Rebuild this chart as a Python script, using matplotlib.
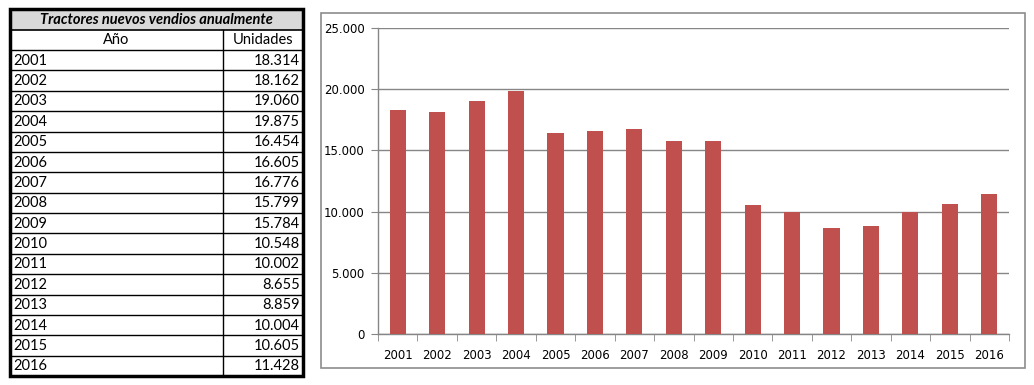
import numpy as np
import matplotlib.pyplot as plt
from matplotlib.patches import Rectangle
from matplotlib.ticker import FuncFormatter

# datos de la tabla / grafico
years = ['2001', '2002', '2003', '2004', '2005', '2006', '2007', '2008',
         '2009', '2010', '2011', '2012', '2013', '2014', '2015', '2016']
units = [18314, 18162, 19060, 19875, 16454, 16605, 16776, 15799,
         15784, 10548, 10002, 8655, 8859, 10004, 10605, 11428]
title = 'Tractores nuevos vendios anualmente'
col_labels = ['Año', 'Unidades']

bar_color = '#C0504D'
W, H = 1034, 385


def fmt_miles(v):
    # separador de miles con punto
    return f'{int(round(v)):,}'.replace(',', '.')


fig = plt.figure(figsize=(W / 100, H / 100), dpi=100)
fig.patch.set_facecolor('white')

# capa de fondo en pixeles para tabla y marco del grafico
bg = fig.add_axes([0, 0, 1, 1])
bg.set_xlim(0, W)
bg.set_ylim(H, 0)
bg.axis('off')

# --- tabla ---
tx0, tx1, tdiv = 10, 303, 223
y_title0, y_title1, y_head1 = 9, 30, 50
row_h = (376 - y_head1) / len(years)
tfont = 'Lato'

bg.add_patch(Rectangle((tx0, y_title0), tx1 - tx0, y_title1 - y_title0,
                       facecolor='#D9D9D9', edgecolor='none', zorder=1))
bg.text((tx0 + tx1) / 2, (y_title0 + y_title1) / 2 + 0.5, title, ha='center', va='center',
        fontsize=10.5, fontstyle='italic', fontweight='bold', family=tfont, zorder=3)
bg.text((tx0 + tdiv) / 2, (y_title1 + y_head1) / 2 + 0.5, col_labels[0], ha='center', va='center',
        fontsize=10.5, family=tfont, zorder=3)
bg.text((tdiv + tx1) / 2, (y_title1 + y_head1) / 2 + 0.5, col_labels[1], ha='center', va='center',
        fontsize=10.5, family=tfont, zorder=3)

bg.plot([tx0, tx1], [y_title1, y_title1], color='black', lw=1.2, zorder=2)
bg.plot([tx0, tx1], [y_head1, y_head1], color='black', lw=1.0, zorder=2)
bg.plot([tdiv, tdiv], [y_title1, 376], color='black', lw=1.0, zorder=2)
for i, (yr, u) in enumerate(zip(years, units)):
    y0 = y_head1 + i * row_h
    yc = y0 + row_h / 2 + 0.5
    if i > 0:
        bg.plot([tx0, tx1], [y0, y0], color='black', lw=1.0, zorder=2)
    bg.text(tx0 + 3, yc, yr, ha='left', va='center', fontsize=10.5, family=tfont, zorder=3)
    bg.text(tx1 - 3, yc, fmt_miles(u), ha='right', va='center', fontsize=10.5,
            family=tfont, zorder=3)

bg.add_patch(Rectangle((tx0, y_title0), tx1 - tx0, 376 - y_title0, facecolor='none',
                       edgecolor='black', lw=2.5, zorder=4))

# --- marco del grafico ---
bg.add_patch(Rectangle((321, 13), 1025 - 321, 368 - 13, facecolor='none',
                       edgecolor='#8C8C8C', lw=1.2, zorder=1))

# --- grafico de barras ---
ax = fig.add_axes([378 / W, (H - 334) / H, (1009 - 378) / W, (334 - 28) / H])
x = np.arange(len(years))
ax.bar(x, units, width=0.41, color=bar_color, zorder=3)
ax.set_xlim(-0.5, len(years) - 0.5)
ax.set_ylim(0, 25000)
ax.set_yticks(np.arange(0, 25001, 5000))
ax.yaxis.set_major_formatter(FuncFormatter(lambda v, p: fmt_miles(v)))
ax.set_xticks(x)
ax.set_xticklabels(years)
ax.set_xticks(np.arange(-0.5, len(years), 1), minor=True)
ax.tick_params(axis='x', which='major', length=0, pad=10.5, labelsize=8.5)
ax.tick_params(axis='x', which='minor', length=5, color='#868686', direction='out')
ax.tick_params(axis='y', length=5, color='#868686', labelsize=8.5, pad=4.5)
ax.grid(axis='y', color='#868686', lw=1.0, zorder=0)
for s in ['top', 'right']:
    ax.spines[s].set_visible(False)
for s in ['left', 'bottom']:
    ax.spines[s].set_color('#868686')
    ax.spines[s].set_linewidth(1.0)

fig.savefig('out.png', dpi=100)
